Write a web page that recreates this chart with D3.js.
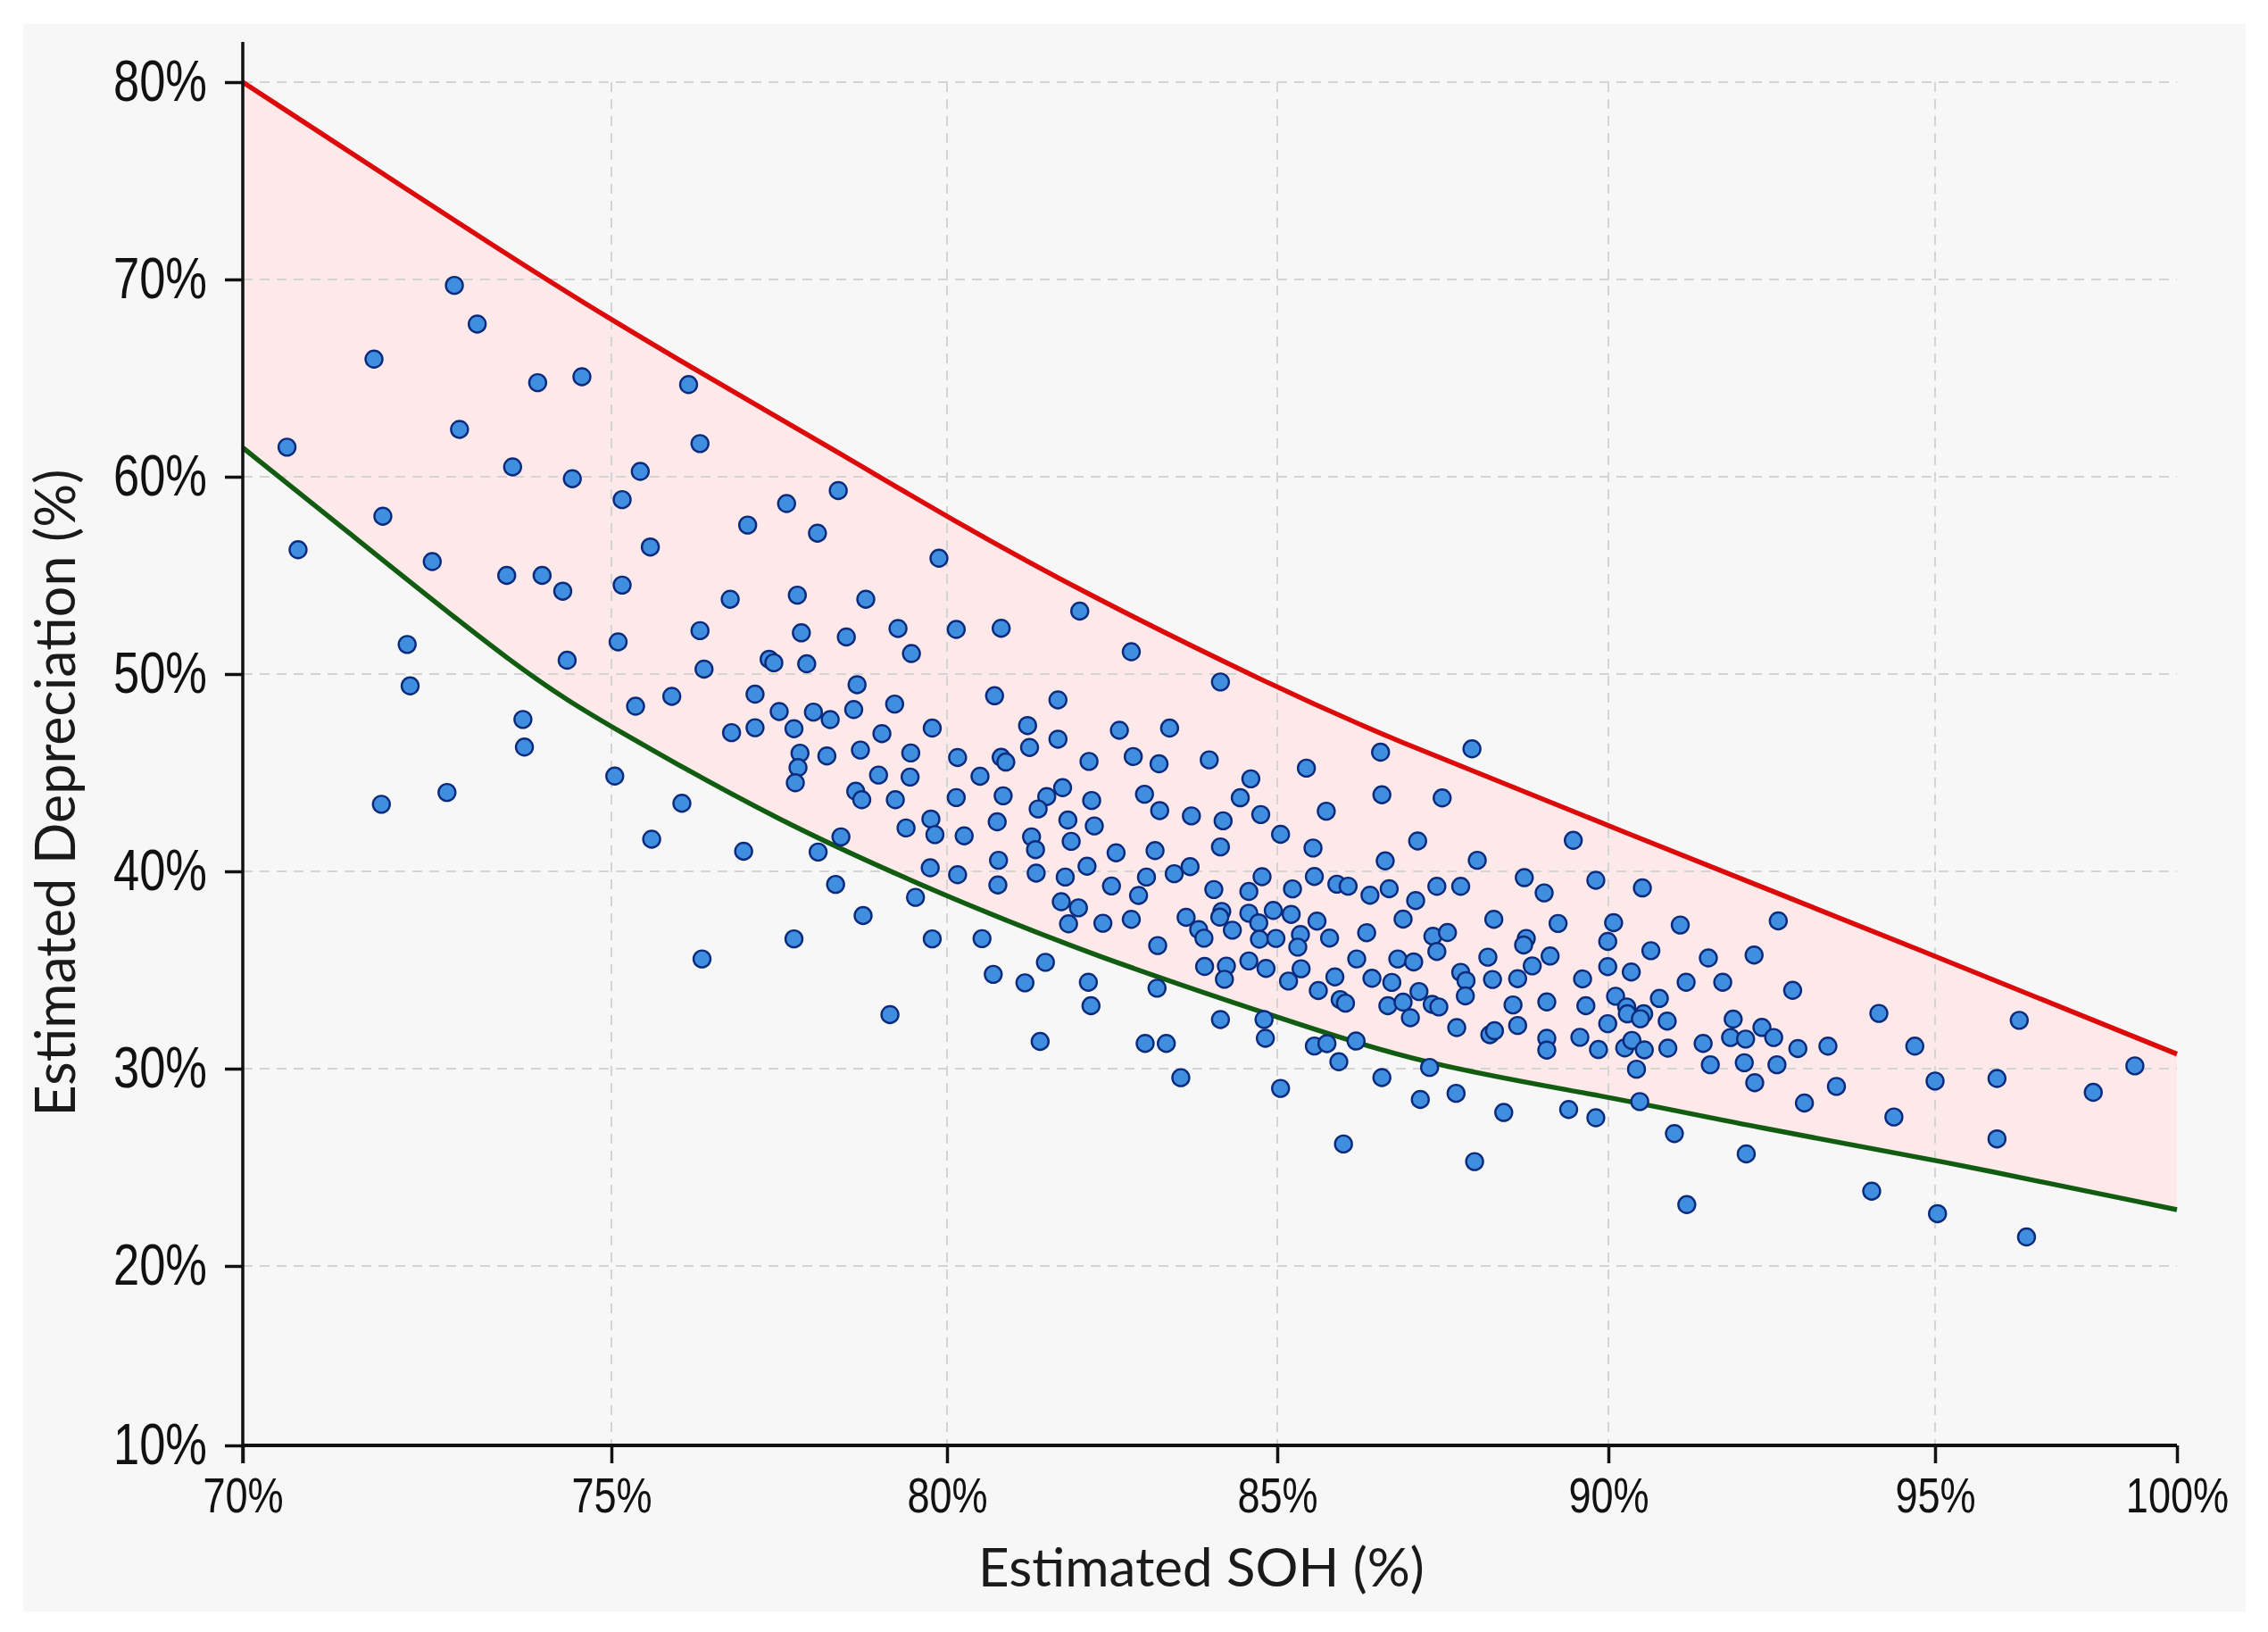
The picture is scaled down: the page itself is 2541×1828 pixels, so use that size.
<!DOCTYPE html>
<html>
<head>
<meta charset="utf-8">
<script src="https://cdn.jsdelivr.net/npm/d3@7"></script>
<style>
  html, body { margin: 0; padding: 0; background: #ffffff; }
  svg { display: block; }
</style>
</head>
<body>
<div id="chart"></div>
<script>
// ---------------- DATA ----------------
const xTicks = [70, 75, 80, 85, 90, 95, 100];
const yTicks = [10, 20, 30, 40, 50, 60, 70, 80];
const xLabels = ["70%", "75%", "80%", "85%", "90%", "95%", "100%"];
const yLabels = ["10%", "20%", "30%", "40%", "50%", "60%", "70%", "80%"];
const xTitle = "Estimated SOH (%)";
const yTitle = "Estimated Depreciation (%)";

// upper bound curve (red) : SOH, depreciation
const upperSOH = [70, 73.71, 75, 76.24, 78.55, 80, 82.16, 85, 86.57, 90, 95, 100];
const upperDep = [80, 70.93, 67.96, 65.44, 60.9, 57.96, 53.95, 49.3, 46.92, 42.31, 35.71, 30.74];

// lower bound curve (green)
const lowerSOH = [70, 71.21, 73.83, 75, 77.48, 80, 82.25, 85, 87.25, 90, 92.28, 95, 100];
const lowerDep = [61.47, 57.86, 49.94, 47.3, 42.54, 38.7, 35.69, 32.6, 30.15, 28.6, 27.0, 25.4, 22.85];

// scatter points : [SOH, depreciation]
const vehicles = [
  [72.87,69.7],[73.18,67.74],[71.78,65.96],[74.0,64.77],[74.6,65.07],[72.94,62.4],[70.6,61.5],[73.66,60.5],[74.47,59.9],[71.9,58.0],[70.75,56.3],[72.57,55.7],[73.58,55.0],[74.06,55.0],[74.34,54.2],[72.23,51.5],[74.4,50.7],[72.27,49.4],[73.8,47.7],[73.82,46.3],[71.88,43.4],[72.77,44.0],
  [76.15,64.67],[76.32,61.68],[75.43,60.27],[75.16,58.84],[78.38,59.3],[77.61,58.64],[77.03,57.55],[78.07,57.14],[75.58,56.44],[79.88,55.87],[75.16,54.51],[76.77,53.79],[77.77,54.0],[78.79,53.79],[75.1,51.63],[76.32,52.2],[77.83,52.09],[78.5,51.88],[79.27,52.31],[79.47,51.04],[77.35,50.75],[77.42,50.57],[77.91,50.52],[76.38,50.25],[78.66,49.46],[75.9,48.87],[75.36,48.37],[77.14,48.98],[77.5,48.1],[78.01,48.07],[78.26,47.69],[78.61,48.2],[79.22,48.48],[76.79,47.03],[77.14,47.28],[77.72,47.23],[79.03,46.98],[79.78,47.26],[77.81,45.99],[78.21,45.85],[78.71,46.15],[79.46,46.0],[77.78,45.26],[77.74,44.49],[78.98,44.88],[79.45,44.78],[75.05,44.83],[76.05,43.45],[78.64,44.06],[78.73,43.63],[79.23,43.63],[75.6,41.63],[76.97,41.02],[78.42,41.75],[78.08,40.98],[79.39,42.2],[79.76,42.65],[79.82,41.86],[79.75,40.18],[78.34,39.34],[79.53,38.68],[78.75,37.76],[77.72,36.58],[79.78,36.58],[76.35,35.56],[79.15,32.74],
  [82.01,53.19],[80.14,52.26],[80.82,52.32],[82.79,51.13],[84.14,49.6],[80.72,48.9],[81.68,48.69],[81.22,47.39],[81.68,46.7],[82.61,47.15],[83.37,47.26],[81.25,46.28],[80.16,45.77],[80.82,45.78],[80.89,45.54],[82.15,45.57],[82.82,45.82],[83.21,45.45],[83.97,45.65],[80.5,44.82],[84.6,44.69],[80.14,43.74],[80.85,43.83],[81.51,43.79],[81.75,44.24],[81.38,43.16],[82.19,43.59],[82.99,43.91],[84.44,43.73],[83.22,43.08],[83.7,42.81],[84.18,42.56],[84.75,42.88],[80.76,42.51],[81.83,42.6],[82.23,42.3],[80.26,41.8],[81.28,41.75],[81.88,41.52],[81.34,41.1],[82.56,40.94],[83.15,41.05],[84.14,41.24],[85.05,41.88],[80.78,40.56],[80.16,39.83],[81.35,39.91],[80.77,39.31],[81.79,39.71],[82.12,40.26],[83.02,39.71],[83.44,39.88],[83.68,40.24],[82.49,39.26],[84.04,39.08],[84.77,39.73],[84.57,38.98],[82.9,38.78],[81.73,38.46],[81.99,38.15],[81.84,37.34],[82.36,37.37],[82.79,37.57],[83.62,37.67],[84.16,37.97],[84.13,37.68],[84.57,37.88],[84.94,38.02],[83.81,37.05],[83.89,36.61],[84.32,37.02],[84.72,37.39],[84.73,36.56],[84.98,36.6],[80.53,36.59],[83.19,36.24],[83.9,35.18],[84.23,35.2],[84.2,34.53],[84.57,35.46],[84.83,35.08],[81.49,35.39],[80.7,34.78],[81.18,34.35],[82.14,34.38],[82.18,33.19],[83.18,34.08],[84.14,32.49],[84.8,32.49],[84.82,31.54],[81.41,31.38],[83.0,31.28],[83.32,31.28],[83.54,29.54],
  [86.56,46.04],[87.94,46.21],[85.44,45.23],[86.58,43.88],[87.49,43.72],[85.74,43.05],[87.12,41.54],[89.47,41.57],[85.54,41.18],[86.63,40.53],[88.02,40.56],[85.56,39.74],[85.9,39.35],[86.07,39.25],[85.23,39.11],[86.4,38.79],[86.69,39.12],[87.41,39.24],[87.77,39.24],[88.73,39.68],[89.03,38.91],[89.81,39.55],[87.09,38.52],[85.21,37.82],[85.6,37.48],[86.9,37.58],[88.27,37.57],[89.24,37.36],[85.35,36.8],[85.31,36.16],[85.79,36.62],[86.35,36.89],[87.35,36.71],[87.57,36.9],[87.41,35.94],[88.76,36.6],[88.72,36.27],[89.99,36.45],[86.2,35.56],[86.82,35.56],[87.06,35.41],[88.18,35.65],[88.85,35.21],[89.12,35.71],[89.99,35.17],[85.36,35.06],[85.17,34.44],[85.87,34.65],[85.62,33.96],[86.43,34.58],[86.73,34.37],[87.14,33.91],[87.77,34.88],[87.85,34.46],[88.25,34.52],[88.63,34.56],[89.61,34.55],[85.95,33.5],[86.03,33.32],[86.67,33.19],[86.9,33.37],[87.01,32.58],[87.34,33.26],[87.44,33.13],[87.84,33.69],[88.56,33.23],[89.07,33.38],[89.66,33.19],[87.71,32.08],[88.21,31.72],[88.28,31.92],[88.63,32.19],[89.07,31.54],[89.07,30.94],[89.57,31.59],[89.85,30.97],[89.99,32.28],[85.56,31.15],[85.75,31.27],[86.19,31.4],[85.93,30.35],[87.3,30.06],[86.58,29.55],[85.05,29.0],[87.16,28.44],[87.7,28.75],[88.42,27.78],[89.4,27.93],[89.81,27.51],[86.0,26.18],[87.98,25.29],
  [90.52,39.16],[90.08,37.4],[91.1,37.28],[92.6,37.49],[90.65,35.98],[91.53,35.61],[92.23,35.76],[90.35,34.9],[91.19,34.38],[91.75,34.38],[92.82,33.97],[90.11,33.67],[90.78,33.56],[90.28,33.13],[90.29,32.78],[90.54,32.78],[90.49,32.53],[90.9,32.41],[91.91,32.51],[92.35,32.09],[94.14,32.8],[90.25,31.05],[90.36,31.43],[90.55,30.95],[90.91,31.04],[91.45,31.28],[91.87,31.58],[92.1,31.5],[92.53,31.58],[92.9,31.02],[93.36,31.14],[94.69,31.14],[90.43,29.97],[91.56,30.2],[92.08,30.3],[92.58,30.2],[92.24,29.29],[93.49,29.1],[90.48,28.33],[93.0,28.26],[94.37,27.55],[91.01,26.71],[92.11,25.68],[94.03,23.79],[91.2,23.11],
  [96.74,32.45],[95.0,29.37],[96.28,29.5],[99.13,30.14],[98.27,28.8],[96.28,26.44],[95.05,22.65],[96.89,21.47]
];

// ---------------- LAYOUT ----------------
const W = 2541, H = 1828;
const svg = d3.select("#chart").append("svg")
  .attr("width", W).attr("height", H)
  .attr("viewBox", `0 0 ${W} ${H}`);

svg.append("rect").attr("x", 0).attr("y", 0).attr("width", W).attr("height", H).attr("fill", "#ffffff");
svg.append("rect").attr("x", 26).attr("y", 27).attr("width", 2490).attr("height", 1778).attr("fill", "#f7f7f7");

// piecewise-linear scales (the reference axis is not evenly spaced)
const x = d3.scaleLinear().domain(xTicks).range([272, 685, 1061, 1431, 1802, 2168, 2439]);
const y = d3.scaleLinear().domain([10, 20, 80]).range([1619, 1418, 92]);
const yTop = 47;

const tickFont = "'Liberation Sans', Arial, sans-serif";
const titleFont = "Lato, 'Open Sans', 'Noto Sans', sans-serif";

// band between curves
const upper = upperSOH.map((s, i) => [s, upperDep[i]]);
const lower = lowerSOH.map((s, i) => [s, lowerDep[i]]);
const line = d3.line().x(d => x(d[0])).y(d => y(d[1])).curve(d3.curveBasis);
const bandPath = line(upper) + "L" + line(lower.slice().reverse()).slice(1) + "Z";
svg.append("path").attr("d", bandPath).attr("fill", "#fde9e9").attr("stroke", "none");

// grid
const grid = svg.append("g").attr("stroke", "#d4d4d4").attr("stroke-width", 2).attr("stroke-dasharray", "11,8");
grid.selectAll("line.h").data(yTicks.filter(d => d > 10)).join("line")
  .attr("class", "h")
  .attr("x1", x(70)).attr("x2", x(100)).attr("y1", d => y(d)).attr("y2", d => y(d));
grid.selectAll("line.v").data(xTicks.filter(d => d > 70 && d < 100)).join("line")
  .attr("class", "v")
  .attr("x1", d => x(d)).attr("x2", d => x(d)).attr("y1", y(80)).attr("y2", y(10));

// curves
svg.append("path").attr("d", line(upper)).attr("fill", "none").attr("stroke", "#dc0a0a").attr("stroke-width", 5.5);
svg.append("path").attr("d", line(lower)).attr("fill", "none").attr("stroke", "#125c12").attr("stroke-width", 5.5);

// points
svg.append("g").selectAll("circle").data(vehicles).join("circle")
  .attr("cx", d => x(d[0])).attr("cy", d => y(d[1])).attr("r", 9.5)
  .attr("fill", "#3f8ee0").attr("stroke", "#0b2a7c").attr("stroke-width", 2.4);

// axes
const xAxis = d3.axisBottom(x).tickValues(xTicks).tickSize(20).tickSizeOuter(0).tickPadding(16)
  .tickFormat((d, i) => xLabels[i]);
const gx = svg.append("g").attr("transform", `translate(0,${y(10)})`).call(xAxis);
gx.select(".domain").remove();
gx.selectAll(".tick line").attr("stroke", "#111").attr("stroke-width", 3.5);
gx.selectAll(".tick text").attr("font-family", tickFont).attr("font-size", 55).attr("fill", "#111")
  .attr("transform", "scale(0.82,1)");
svg.append("line").attr("x1", x(70)).attr("x2", x(100)).attr("y1", y(10)).attr("y2", y(10))
  .attr("stroke", "#111").attr("stroke-width", 4);

const yAxis = d3.axisLeft(y).tickValues(yTicks).tickSize(20).tickSizeOuter(0).tickPadding(20)
  .tickFormat((d, i) => yLabels[i]);
const gy = svg.append("g").attr("transform", `translate(${x(70)},0)`).call(yAxis);
gy.select(".domain").remove();
gy.selectAll(".tick line").attr("stroke", "#111").attr("stroke-width", 3.5);
gy.selectAll(".tick text").attr("font-family", tickFont).attr("font-size", 64).attr("fill", "#111")
  .attr("x", 0).attr("transform", "translate(-40,0) scale(0.82,1)");
svg.append("line").attr("x1", x(70)).attr("x2", x(70)).attr("y1", yTop).attr("y2", y(10) + 20)
  .attr("stroke", "#111").attr("stroke-width", 3.5);

// titles
svg.append("text").attr("x", 1346).attr("y", 1777).attr("text-anchor", "middle")
  .attr("font-family", titleFont).attr("font-size", 60).attr("fill", "#1a1a1a").text(xTitle);
svg.append("text").attr("transform", "translate(84,888) rotate(-90)").attr("text-anchor", "middle")
  .attr("font-family", titleFont).attr("font-size", 61).attr("fill", "#1a1a1a").text(yTitle);
</script>
</body>
</html>
